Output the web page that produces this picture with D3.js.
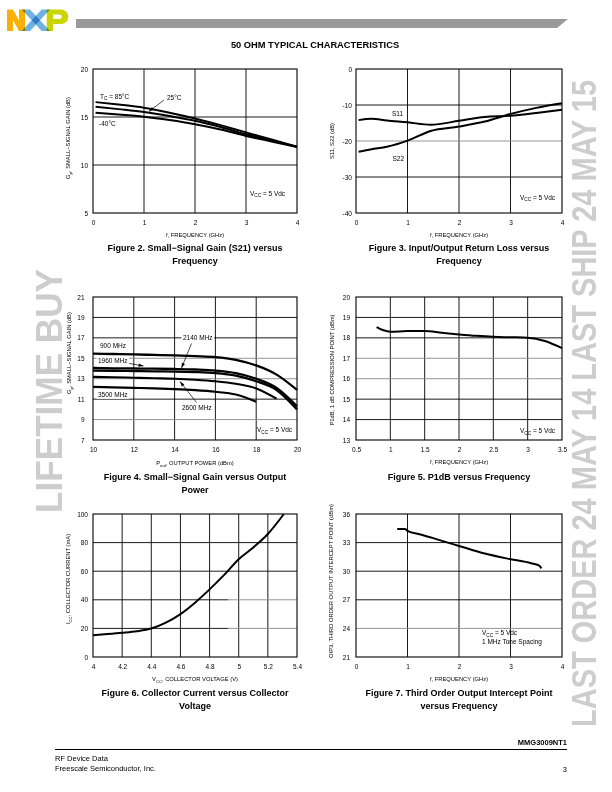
<!DOCTYPE html>
<html><head><meta charset="utf-8">
<script src="https://cdn.jsdelivr.net/npm/d3@7"></script>
<style>
body{margin:0;background:#fff}
svg{display:block}
text{font-family:"Liberation Sans",Arial,Helvetica,sans-serif}
</style>
</head><body><svg id="c" width="612" height="792"></svg>
<script>
// ---------- DATA ----------
// Figure 2: small-signal gain vs frequency
const fig2Freq = [0.05, 0.5, 1, 1.5, 2, 2.5, 3, 3.5, 4];
const fig2Gain85 = [16.55, 16.3, 15.97, 15.45, 14.85, 14.15, 13.4, 12.65, 11.9];
const fig2Gain25 = [16.07, 15.82, 15.52, 15.1, 14.6, 13.95, 13.2, 12.55, 11.9];
const fig2GainM40 = [15.45, 15.27, 15.03, 14.68, 14.25, 13.7, 13.03, 12.45, 11.88];
const fig2XTicks = [0, 1, 2, 3, 4];
const fig2YTicks = [5, 10, 15, 20];
// Figure 3: return loss
const fig3Freq = [0.05, 0.3, 0.6, 1, 1.45, 2, 2.5, 3, 3.5, 4];
const fig3S11 = [-14.2, -13.8, -14.3, -14.8, -15.5, -14.4, -13.3, -13.0, -12.2, -11.3];
const fig3S22 = [-23.0, -22.3, -21.6, -19.9, -17.2, -16.0, -14.6, -12.5, -10.8, -9.5];
const fig3XTicks = [0, 1, 2, 3, 4];
const fig3YTicks = [-40, -30, -20, -10, 0];
// Figure 4: gain vs output power
const fig4Pout = [10, 11, 12, 13, 14, 15, 16, 17, 18, 19, 20];
const fig4G900 = [15.46, 15.42, 15.38, 15.33, 15.28, 15.21, 15.12, 14.85, 14.3, 13.4, 11.9];
const fig4G1960 = [14.05, 14.02, 14.0, 13.98, 13.95, 13.9, 13.8, 13.55, 13.0, 12.1, 10.3];
const fig4G2140 = [13.8, 13.78, 13.75, 13.72, 13.7, 13.65, 13.55, 13.3, 12.75, 11.9, 10.0];
const fig4Pout2600 = [10, 11, 12, 13, 14, 15, 16, 17, 18, 19];
const fig4G2600 = [13.18, 13.15, 13.1, 13.05, 13.0, 12.9, 12.75, 12.5, 12.05, 11.05];
const fig4Pout3500 = [10, 11, 12, 13, 14, 15, 16, 17, 18];
const fig4G3500 = [12.2, 12.15, 12.1, 12.05, 11.98, 11.88, 11.72, 11.45, 10.75];
const fig4XTicks = [10, 12, 14, 16, 18, 20];
const fig4YTicks = [7, 9, 11, 13, 15, 17, 19, 21];
// Figure 5: P1dB vs frequency
const fig5Freq = [0.8, 0.9, 1.0, 1.25, 1.5, 1.75, 2.0, 2.25, 2.5, 2.75, 3.0, 3.25, 3.5];
const fig5P1dB = [18.53, 18.37, 18.3, 18.33, 18.33, 18.25, 18.17, 18.1, 18.05, 18.03, 18.01, 17.85, 17.5];
const fig5XTicks = [0.5, 1, 1.5, 2, 2.5, 3, 3.5];
const fig5YTicks = [13, 14, 15, 16, 17, 18, 19, 20];
// Figure 6: collector current vs voltage
const fig6Vcc = [4.0, 4.1, 4.2, 4.3, 4.4, 4.5, 4.6, 4.7, 4.8, 4.9, 5.0, 5.1, 5.2, 5.31];
const fig6Icc = [15.2, 16.0, 16.9, 18.0, 19.9, 24.0, 30.0, 38.0, 47.3, 57.4, 68.4, 76.6, 86.0, 100];
const fig6XTicks = [4, 4.2, 4.4, 4.6, 4.8, 5, 5.2, 5.4];
const fig6YTicks = [0, 20, 40, 60, 80, 100];
// Figure 7: OIP3 vs frequency
const fig7Freq = [0.8, 0.95, 1.0, 1.25, 1.5, 1.75, 2.0, 2.5, 3.0, 3.4, 3.55, 3.6];
const fig7OIP3 = [34.42, 34.42, 34.24, 33.85, 33.47, 33.05, 32.65, 31.85, 31.26, 30.84, 30.6, 30.3];
const fig7XTicks = [0, 1, 2, 3, 4];
const fig7YTicks = [21, 24, 27, 30, 33, 36];

// ---------- DRAW ----------
const FONT = '"Liberation Sans",Arial,Helvetica,sans-serif';
const svg = d3.select("#c");
svg.append("rect").attr("width", 612).attr("height", 792).attr("fill", "#fff");

// watermarks
svg.append("text").attr("transform", "translate(62,513) rotate(-90) scale(0.95,1)")
  .attr("font-size", 37).attr("font-weight", "bold").attr("fill", "#cdcdcd").text("LIFETIME BUY");
svg.append("text").attr("transform", "translate(596,727) rotate(-90) scale(1,1.2)")
  .attr("font-size", 29).attr("font-weight", "bold").attr("fill", "#cdcdcd")
  .text("LAST ORDER 24 MAY 14 LAST SHIP 24 MAY 15");

// logo
const logo = svg.append("g");
logo.append("path").attr("d", "M7,31 V9.5 H13 L19,20.5 V9.5 H25 V31 H19 L13,20 V31 Z").attr("fill", "#F9B000");
logo.append("path").attr("d", "M21.7,9.5 H30 L50,31 H41.7 Z").attr("fill", "#6FB2E2").style("mix-blend-mode", "multiply");
logo.append("path").attr("d", "M41.7,9.5 H50 L30,31 H21.7 Z").attr("fill", "#6FB2E2").style("mix-blend-mode", "multiply");
logo.append("path").attr("d", "M46.7,9.5 H61 A7.2,7.2 0 0 1 61,24 H53 V31 H46.7 Z M53,14.5 H60 A2.3,2.3 0 0 1 60,19 H53 Z")
  .attr("fill", "#C9D400").attr("fill-rule", "evenodd").style("mix-blend-mode", "multiply");
svg.append("path").attr("d", "M76,19 H568 L557,28 H76 Z").attr("fill", "#9a9a9a");

svg.append("text").attr("x", 315).attr("y", 48).attr("text-anchor", "middle")
  .attr("font-size", 9.3).attr("font-weight", "bold").text("50 OHM TYPICAL CHARACTERISTICS");

// rich text helper: parts = [[str, isSub], ...]
function rich(parent, x, y, parts, opt = {}) {
  const fs = opt.fs || 6.5;
  const t = parent.append("text").attr("x", x).attr("y", y).attr("font-size", fs)
    .attr("text-anchor", opt.anchor || "start");
  if (opt.transform) t.attr("transform", opt.transform);
  if (opt.len) t.attr("textLength", opt.len).attr("lengthAdjust", "spacingAndGlyphs");
  let shifted = false;
  parts.forEach(p => {
    const sub = !!p[1];
    const ts = t.append("tspan").text(p[0]);
    if (sub) { ts.attr("font-size", fs * 0.72).attr("dy", shifted ? 0 : fs * 0.3); shifted = true; }
    else if (shifted) { ts.attr("dy", -fs * 0.3); shifted = false; }
  });
  return t;
}

function arrow(g, x1, y1, x2, y2) {
  g.append("line").attr("x1", x1).attr("y1", y1).attr("x2", x2).attr("y2", y2).attr("stroke", "#000").attr("stroke-width", 0.7);
  const a = Math.atan2(y2 - y1, x2 - x1), L = 5, W = 1.7;
  const bx = x2 - L * Math.cos(a), by = y2 - L * Math.sin(a);
  const px = -Math.sin(a) * W, py = Math.cos(a) * W;
  g.append("path").attr("d", `M${x2},${y2} L${bx + px},${by + py} L${bx - px},${by - py} Z`).attr("fill", "#000");
}

function makeChart(o) {
  const x = d3.scaleLinear().domain(o.xd).range([o.l, o.r]);
  const y = d3.scaleLinear().domain(o.yd).range([o.b, o.t]);
  const g = svg.append("g");
  o.xt.slice(1, -1).forEach(v => g.append("line").attr("x1", x(v)).attr("x2", x(v))
    .attr("y1", o.t).attr("y2", o.b).attr("stroke", "#000").attr("stroke-width", 0.9));
  o.yt.slice(1, -1).forEach(v => {
    const gray = (o.grayY || []).includes(v);
    const split = (o.splitY || []).find(s => s[0] === v);
    if (split) {
      g.append("line").attr("x1", o.l).attr("x2", x(split[1])).attr("y1", y(v)).attr("y2", y(v)).attr("stroke", "#000").attr("stroke-width", 0.9);
      g.append("line").attr("x1", x(split[1])).attr("x2", o.r).attr("y1", y(v)).attr("y2", y(v)).attr("stroke", "#8a8a8a").attr("stroke-width", 0.9);
    } else {
      g.append("line").attr("x1", o.l).attr("x2", o.r).attr("y1", y(v)).attr("y2", y(v))
        .attr("stroke", gray ? "#8a8a8a" : "#000").attr("stroke-width", 0.9);
    }
  });
  g.append("rect").attr("x", o.l).attr("y", o.t).attr("width", o.r - o.l).attr("height", o.b - o.t)
    .attr("fill", "none").attr("stroke", "#000").attr("stroke-width", 1.1);
  const ax = g.append("g").attr("transform", `translate(0,${o.b})`)
    .call(d3.axisBottom(x).tickValues(o.xt).tickSize(0).tickPadding(7).tickFormat(o.xf || (d => String(d))));
  ax.select(".domain").remove();
  ax.attr("font-size", 6.5).attr("font-family", FONT);
  const ay = g.append("g").attr("transform", `translate(${o.l},0)`)
    .call(d3.axisLeft(y).tickValues(o.yt).tickSize(0).tickPadding(o.yp || 5).tickFormat(d => String(d)));
  ay.select(".domain").remove();
  ay.attr("font-size", 6.5).attr("font-family", FONT);
  const line = d3.line().x(d => x(d[0])).y(d => y(d[1])).curve(d3.curveMonotoneX);
  o.series.forEach(s => {
    g.append("path").datum(d3.zip(s.x, s.y)).attr("d", line).attr("fill", "none")
      .attr("stroke", "#000").attr("stroke-width", s.w || 2).attr("stroke-linejoin", "round");
  });
  // x title
  rich(g, (o.l + o.r) / 2, o.xtY, o.xtitle, { anchor: "middle", fs: 5.8 });
  // y title
  rich(g, 0, 0, o.ytitle, { anchor: "middle", fs: 5.8, transform: `translate(${o.ytX},${o.ytC}) rotate(-90)`, len: o.ytLen });
  // caption
  o.caption.forEach((c, i) => {
    g.append("text").attr("x", o.capX || (o.l + o.r) / 2).attr("y", o.capY + i * 12.5).attr("text-anchor", "middle")
      .attr("font-size", 9).attr("font-weight", "bold").text(c);
  });
  return { x, y, g };
}

const VCC = [["V"], ["CC", 1], [" = 5 Vdc"]];

// Figure 2
const c2 = makeChart({
  l: 93, r: 297, t: 69, b: 213, xd: [0, 4], yd: [5, 20], xt: fig2XTicks, yt: fig2YTicks,
  series: [{ x: fig2Freq, y: fig2Gain85 }, { x: fig2Freq, y: fig2Gain25 }, { x: fig2Freq, y: fig2GainM40 }],
  xtitle: [["f, FREQUENCY (GHz)"]], xtY: 237,
  ytitle: [["G"], ["p", 1], [", SMALL\u2212SIGNAL GAIN (dB)"]], ytX: 70, ytC: 138,
  caption: ["Figure 2. Small\u2212Signal Gain (S21) versus", "Frequency"], capY: 251
});
rich(c2.g, 100, 98.5, [["T"], ["C", 1], [" = 85\u00B0C"]]);
rich(c2.g, 167, 99.5, [["25\u00B0C"]]);
rich(c2.g, 99, 125.5, [["-40\u00B0C"]]);
rich(c2.g, 250, 195.5, VCC);
arrow(c2.g, 164, 100, 149, 111.5);

// Figure 3
const c3 = makeChart({
  l: 356, r: 562, t: 69, b: 213, xd: [0, 4], yd: [-40, 0], xt: fig3XTicks, yt: fig3YTicks, yp: 4,
  grayY: [-20],
  series: [{ x: fig3Freq, y: fig3S11 }, { x: fig3Freq, y: fig3S22 }],
  xtitle: [["f, FREQUENCY (GHz)"]], xtY: 237,
  ytitle: [["S11, S22 (dB)"]], ytX: 334, ytC: 141,
  caption: ["Figure 3. Input/Output Return Loss versus", "Frequency"], capY: 251
});
rich(c3.g, 392, 115.5, [["S11"]]);
rich(c3.g, 392.5, 160.5, [["S22"]]);
rich(c3.g, 520, 199.5, VCC);

// Figure 4
const c4 = makeChart({
  l: 93, r: 297, t: 297, b: 440, xd: [10, 20], yd: [7, 21], xt: fig4XTicks, yt: fig4YTicks, yp: 8.5,
  grayY: [15, 13, 9],
  series: [
    { x: fig4Pout, y: fig4G900, w: 2.3 }, { x: fig4Pout, y: fig4G1960, w: 2.3 }, { x: fig4Pout, y: fig4G2140, w: 2.3 },
    { x: fig4Pout2600, y: fig4G2600, w: 2.1 }, { x: fig4Pout3500, y: fig4G3500, w: 2.1 }
  ],
  xtitle: [["P"], ["out", 1], [", OUTPUT POWER (dBm)"]], xtY: 465,
  ytitle: [["G"], ["p", 1], [", SMALL\u2212SIGNAL GAIN (dB)"]], ytX: 71, ytC: 353,
  caption: ["Figure 4. Small\u2212Signal Gain versus Output", "Power"], capY: 480
});
function boxedLabel(g, x, cy, parts) {
  const t = rich(g, x, cy + 2.3, parts);
  const bb = t.node().getBBox();
  g.insert("rect", function () { return t.node(); })
    .attr("x", bb.x - 1.5).attr("y", bb.y - 0.5).attr("width", bb.width + 3).attr("height", bb.height + 1).attr("fill", "#fff");
  return t;
}
arrow(c4.g, 191.5, 343.5, 181.5, 368);
arrow(c4.g, 123, 362.3, 143.5, 366);
arrow(c4.g, 196.5, 402.5, 180, 381.5);
boxedLabel(c4.g, 100, 346, [["900 MHz"]]);
boxedLabel(c4.g, 183, 338, [["2140 MHz"]]);
boxedLabel(c4.g, 98, 361, [["1960 MHz"]]);
boxedLabel(c4.g, 98, 395, [["3500 MHz"]]);
boxedLabel(c4.g, 182, 408, [["2600 MHz"]]);
rich(c4.g, 257, 432.3, VCC);

// Figure 5
const c5 = makeChart({
  l: 356, r: 562, t: 297, b: 440, xd: [0.5, 3.5], yd: [13, 20], xt: fig5XTicks, yt: fig5YTicks, yp: 6,
  grayY: [17, 16],
  series: [{ x: fig5Freq, y: fig5P1dB }],
  xtitle: [["f, FREQUENCY (GHz)"]], xtY: 464,
  ytitle: [["P1dB, 1 dB COMPRESSION POINT (dBm)"]], ytX: 334, ytC: 370,
  caption: ["Figure 5. P1dB versus Frequency"], capY: 480
});
rich(c5.g, 520, 433, VCC);

// Figure 6
const c6 = makeChart({
  l: 93, r: 297, t: 514, b: 657, xd: [4, 5.4], yd: [0, 100], xt: fig6XTicks, yt: fig6YTicks, yp: 5,
  splitY: [[40, 4.93], [20, 4.93]],
  series: [{ x: fig6Vcc, y: fig6Icc }],
  xtitle: [["V"], ["CC", 1], [", COLLECTOR VOLTAGE (V)"]], xtY: 681,
  ytitle: [["I"], ["CC", 1], [", COLLECTOR CURRENT (mA)"]], ytX: 70, ytC: 579,
  caption: ["Figure 6. Collector Current versus Collector", "Voltage"], capY: 696
});

// Figure 7
const c7 = makeChart({
  l: 356, r: 562, t: 514, b: 657, xd: [0, 4], yd: [21, 36], xt: fig7XTicks, yt: fig7YTicks, yp: 6,
  grayY: [24],
  series: [{ x: fig7Freq, y: fig7OIP3 }],
  xtitle: [["f, FREQUENCY (GHz)"]], xtY: 681,
  ytitle: [["OIP3, THIRD ORDER OUTPUT INTERCEPT POINT (dBm)"]], ytX: 333, ytC: 581, ytLen: 154,
  caption: ["Figure 7. Third Order Output Intercept Point", "versus Frequency"], capY: 696
});
rich(c7.g, 482, 635.3, VCC);
rich(c7.g, 482, 644, [["1 MHz Tone Spacing"]]);

// footer
svg.append("text").attr("x", 567).attr("y", 745).attr("text-anchor", "end").attr("font-size", 7.5).attr("font-weight", "bold").text("MMG3009NT1");
svg.append("line").attr("x1", 55).attr("x2", 567).attr("y1", 749.5).attr("y2", 749.5).attr("stroke", "#000").attr("stroke-width", 1);
svg.append("text").attr("x", 55).attr("y", 761).attr("font-size", 7.5).text("RF Device Data");
svg.append("text").attr("x", 55).attr("y", 771).attr("font-size", 7.5).text("Freescale Semiconductor, Inc.");
svg.append("text").attr("x", 567).attr("y", 772).attr("text-anchor", "end").attr("font-size", 7.5).text("3");
</script></body></html>
